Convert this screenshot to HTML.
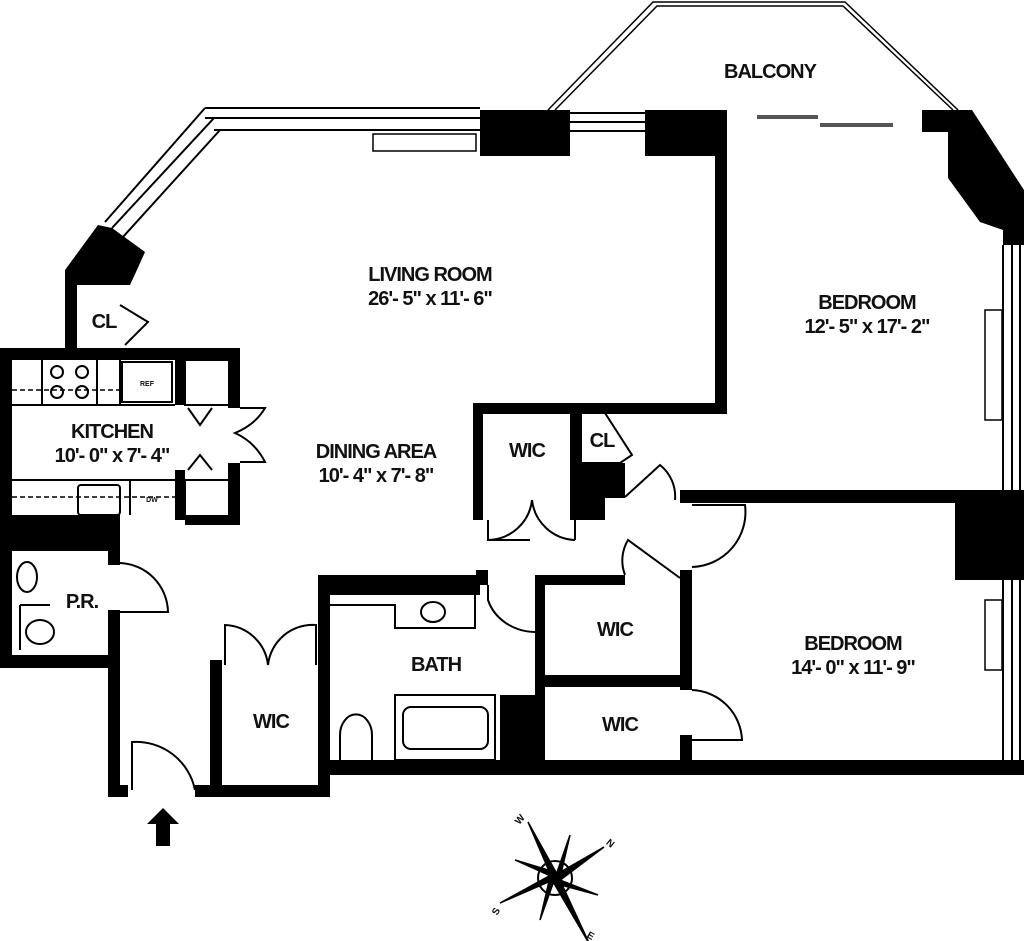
<!DOCTYPE html>
<html><head><style>
html,body{margin:0;padding:0;background:#fff;}
svg{display:block;}
text{font-family:"Liberation Sans",Arial,sans-serif;font-weight:bold;fill:#111;}
</style></head><body>
<svg width="1024" height="941" viewBox="0 0 1024 941" xmlns="http://www.w3.org/2000/svg">
<g fill="#000" stroke="none">
<rect x="480" y="110" width="90" height="46"/>
<rect x="645" y="110" width="82" height="46"/>
<rect x="715" y="110" width="12" height="303"/>
<rect x="473" y="403" width="254" height="11"/>
<polygon points="98,225 112,228 145,252 136,272 130,285 77,285 77,350 65,350 65,270"/>
<rect x="0" y="348" width="240" height="12"/>
<rect x="0" y="348" width="12" height="320"/>
<rect x="0" y="515" width="120" height="36"/>
<rect x="228" y="348" width="12" height="60"/>
<rect x="228" y="463" width="12" height="62"/>
<rect x="175" y="360" width="10" height="45"/>
<rect x="175" y="470" width="10" height="50"/>
<rect x="185" y="515" width="55" height="10"/>
<rect x="0" y="655" width="120" height="13"/>
<rect x="108" y="530" width="12" height="35"/>
<rect x="108" y="610" width="12" height="185"/>
<rect x="108" y="785" width="20" height="12"/>
<rect x="195" y="785" width="135" height="12"/>
<rect x="210" y="660" width="12" height="130"/>
<rect x="318" y="575" width="12" height="220"/>
<rect x="318" y="575" width="162" height="20"/>
<rect x="476" y="570" width="12" height="15"/>
<rect x="500" y="695" width="45" height="75"/>
<rect x="318" y="760" width="706" height="15"/>
<rect x="535" y="575" width="10" height="195"/>
<rect x="535" y="575" width="90" height="10"/>
<rect x="545" y="675" width="145" height="12"/>
<rect x="680" y="570" width="12" height="120"/>
<rect x="680" y="735" width="12" height="30"/>
<rect x="680" y="490" width="344" height="13"/>
<rect x="955" y="495" width="69" height="85"/>
<rect x="473" y="403" width="10" height="117"/>
<rect x="570" y="413" width="12" height="107"/>
<rect x="570" y="463" width="35" height="57"/>
<rect x="605" y="463" width="20" height="35"/>
<polygon points="922,110 972,110 1024,190 1024,245 1003,245 1003,230 980,222 948,178 948,132 922,132"/>
</g>
<g fill="none" stroke="#000" stroke-width="2">
<path d="M205,108 L480,108 M205,118 L480,118 M214,130 L480,130 M205,108 L105,222 M214,118 L112,228 M220,130 L122,238"/>
<rect x="373" y="134" width="103" height="17" stroke-width="1.5"/>
<path d="M570,113 L645,113 M570,122 L645,122 M570,131 L645,131"/>
<path d="M548,110 L653,2 L845,2 L958,110 M555,110 L657,6 L843,6 L953,110" stroke-width="1.5"/>
<path d="M757,117 L818,117 M820,125 L893,125" stroke="#555" stroke-width="4"/>
<path d="M1003,245 L1003,490 M1012,245 L1012,490 M1020,245 L1020,490"/>
<rect x="985" y="310" width="17" height="110" stroke-width="1.5"/>
<path d="M1003,580 L1003,760 M1012,580 L1012,760 M1020,580 L1020,760"/>
<rect x="985" y="600" width="17" height="70" stroke-width="1.5"/>
<path d="M120,305 L148,322 L125,345"/>
<path d="M12,405 L175,405 M12,480 L175,480 M42,360 L42,405 M97,360 L97,405 M120,360 L120,405"/>
<path d="M12,390 L120,390 M12,497 L175,497" stroke-dasharray="5,3" stroke-width="1.5"/>
<rect x="122" y="362" width="50" height="40"/>
<rect x="185" y="360" width="45" height="45"/>
<rect x="185" y="480" width="45" height="37"/>
<rect x="78" y="485" width="42" height="30" rx="3"/>
<path d="M130,480 L130,515"/>
<circle cx="57" cy="372" r="6"/><circle cx="82" cy="372" r="6"/><circle cx="57" cy="392" r="6"/><circle cx="82" cy="392" r="6"/>
<path d="M188,408 L200,425 L212,408 M188,470 L200,455 L212,470"/>
<path d="M240,408 L265,408 Q255,425 235,433 Q255,442 265,462 L240,462"/>
<ellipse cx="27" cy="577" rx="10" ry="15"/>
<path d="M20,605 L20,650 M20,605 L50,605"/>
<ellipse cx="40" cy="632" rx="14" ry="12"/>
<path d="M120,563 A50,50 0 0 1 168,612 L120,612"/>
<path d="M132,790 L132,742 A60,60 0 0 1 195,790"/>
<path d="M225,665 L225,625 A45,45 0 0 1 268,665 M316,665 L316,625 A45,45 0 0 0 268,665"/>
<path d="M330,605 L395,605 L395,628 L475,628 L475,595"/>
<ellipse cx="433" cy="612" rx="12" ry="10"/>
<rect x="395" y="695" width="100" height="65"/>
<rect x="403" y="707" width="85" height="42" rx="8"/>
<path d="M340,760 L340,735 A14,18 0 1 1 372,735 L372,760"/>
<path d="M488,585 L488,600 A50,45 0 0 0 535,632"/>
<path d="M488,520 L488,540 L530,540 M488,540 A45,45 0 0 0 532,500 M575,540 A45,45 0 0 1 532,500 M575,520 L575,540"/>
<path d="M605,413 L632,455 L620,463 L582,463"/>
<path d="M625,497 L660,465 A40,40 0 0 1 675,500"/>
<path d="M692,505 L745,505 A55,55 0 0 1 692,567"/>
<path d="M680,578 L628,540 A40,40 0 0 0 625,575"/>
<path d="M692,690 A52,52 0 0 1 742,740 L692,740"/>
</g>
<polygon points="163,808 179,824 170,824 170,846 156,846 156,824 147,824" fill="#000"/>
<g stroke="#000" fill="#000" stroke-width="1.5">
<circle cx="555" cy="878" r="17" fill="none" stroke-width="2"/>
<polygon points="528,822 552,878 558,876"/>
<polygon points="590,945 558,876 552,880" />
<polygon points="604,847 557,874 559,881"/>
<polygon points="500,903 553,880 551,875"/>
<polygon points="515,860 555,878 555,872" />
<polygon points="598,895 555,878 557,884"/>
<polygon points="570,835 555,878 560,878"/>
<polygon points="540,920 555,878 550,877"/>
</g>
<g font-size="10">
<text x="514" y="822" transform="rotate(-50 520 818)">W</text>
<text x="606" y="848" transform="rotate(40 612 845)">N</text>
<text x="492" y="913" transform="rotate(-60 497 910)">S</text>
<text x="588" y="940" transform="rotate(30 593 935)">E</text>
</g>
<g font-size="20" text-anchor="middle" letter-spacing="-1">
<text x="770" y="78">BALCONY</text>
<text x="430" y="281">LIVING ROOM</text>
<text x="430" y="305">26'- 5" x 11'- 6"</text>
<text x="867" y="309">BEDROOM</text>
<text x="867" y="333">12'- 5" x 17'- 2"</text>
<text x="112" y="438">KITCHEN</text>
<text x="112" y="462">10'- 0" x 7'- 4"</text>
<text x="376" y="458">DINING AREA</text>
<text x="376" y="482">10'- 4" x 7'- 8"</text>
<text x="527" y="457">WIC</text>
<text x="602" y="447">CL</text>
<text x="104" y="328">CL</text>
<text x="82" y="608">P.R.</text>
<text x="615" y="636">WIC</text>
<text x="853" y="650">BEDROOM</text>
<text x="853" y="674">14'- 0" x 11'- 9"</text>
<text x="436" y="671">BATH</text>
<text x="620" y="731">WIC</text>
<text x="271" y="728">WIC</text>
</g>
<g font-size="7" text-anchor="middle"><text x="147" y="386">REF</text><text x="152" y="502">DW</text></g>
</svg>
</body></html>
